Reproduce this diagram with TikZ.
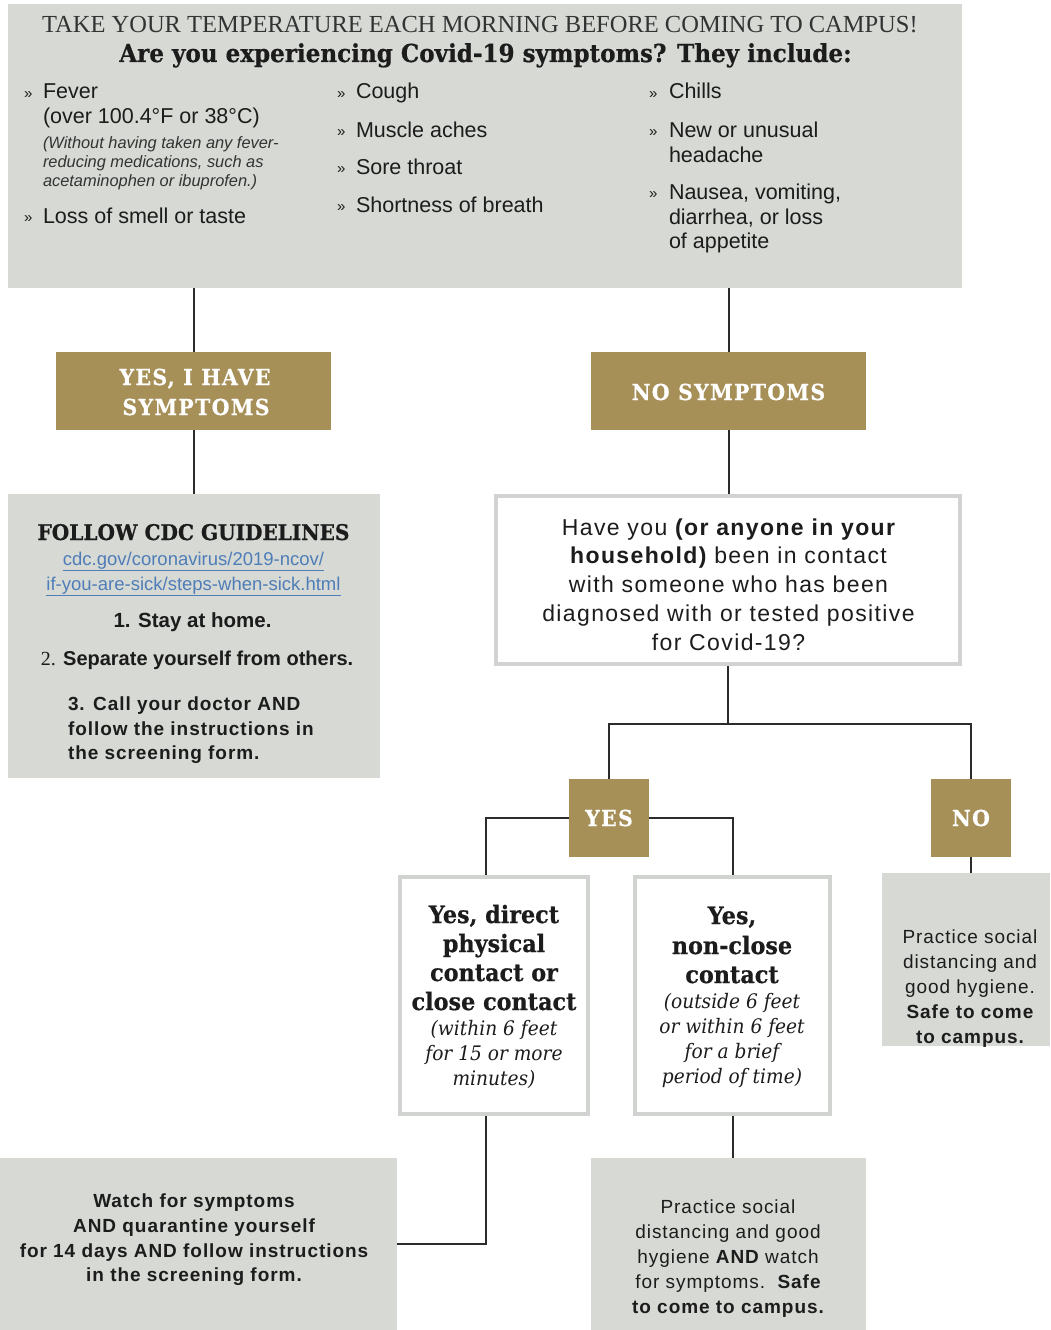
\documentclass[tikz,border=0pt]{standalone}
\usepackage{fontspec}
\setmainfont{Liberation Sans}
\newfontfamily\trk[LetterSpace=5]{Liberation Sans}
\newfontfamily\qfont[LetterSpace=6]{Liberation Sans}
\newfontfamily\titleserif{Liberation Serif}
\newfontfamily\slab[FakeStretch=0.93,BoldFeatures={FakeBold=0.6}]{DejaVu Serif}
\newfontfamily\slabsp[FakeStretch=0.93,LetterSpace=6,BoldFeatures={FakeBold=0.5}]{DejaVu Serif}
\newcommand\fsz[1]{\fontsize{#1}{#1}\selectfont}
\usetikzlibrary{backgrounds}
\definecolor{gold}{HTML}{A69058}
\definecolor{panel}{HTML}{D6D9D4}
\definecolor{frame}{HTML}{D0D3CF}
\definecolor{linkblue}{HTML}{4F7DB8}
\definecolor{ink}{HTML}{1C1C1C}
\definecolor{wirecol}{HTML}{2B2B2B}
\definecolor{soft}{HTML}{333333}
\begin{document}
\begin{tikzpicture}[x=1pt,y=-1pt,
  every node/.style={inner sep=0pt,outer sep=0pt},
  panelbox/.style={fill=panel,draw=none},
  goldbox/.style={fill=gold,draw=none},
  framebox/.style={fill=white,draw=frame,line width=4pt},
  wire/.style={draw=wirecol,line width=2pt},
  txt/.style={text=ink,anchor=base},
  txtl/.style={text=ink,anchor=base west},
  bul/.style={text=ink,anchor=base west,font=\fsz{15}},
  sym/.style={text=ink,anchor=base west,font=\fsz{21.5}},
  note/.style={text=soft,anchor=base west,font=\itshape\fsz{16.4}},
  goldtxt/.style={text=white,anchor=base,font=\slabsp\bfseries\fsz{22}},
  slabhead/.style={text=ink,anchor=base,font=\slab\bfseries\fsz{24}},
  slabnote/.style={text=ink,anchor=base,font=\slab\itshape\fsz{20}},
  qtxt/.style={text=ink,anchor=base,font=\qfont\fsz{23}},
  plain/.style={text=ink,anchor=base,font=\trk\fsz{19}},
  plainb/.style={text=ink,anchor=base,font=\trk\bfseries\fsz{19}}
]
\useasboundingbox (0,0) rectangle (1050,1330);

% ---------- boxes ----------
\node[panelbox,minimum width=954pt,minimum height=284pt] (top) at (485,146) {};
\node[goldbox,minimum width=275pt,minimum height=78pt] (yesS) at (193.5,391) {};
\node[goldbox,minimum width=275pt,minimum height=78pt] (noS) at (728.5,391) {};
\node[panelbox,minimum width=372pt,minimum height=284pt] (cdc) at (194,636) {};
\node[framebox,minimum width=464pt,minimum height=168pt] (q) at (728,580) {};
\node[goldbox,minimum width=80pt,minimum height=78pt] (yesB) at (609,818) {};
\node[goldbox,minimum width=80pt,minimum height=78pt] (noB) at (971,818) {};
\node[framebox,minimum width=188pt,minimum height=237pt] (direct) at (494,995.5) {};
\node[framebox,minimum width=195pt,minimum height=237pt] (noncl) at (732.5,995.5) {};
\node[panelbox,minimum width=168pt,minimum height=173pt] (prac) at (966,959.5) {};
\node[panelbox,minimum width=397pt,minimum height=172pt] (watch) at (198.5,1244) {};
\node[panelbox,minimum width=275pt,minimum height=172pt] (prac2) at (728.5,1244) {};

\coordinate (join) at (728,724);
\coordinate (dtop) at (486,875);

% ---------- connectors ----------
\begin{pgfonlayer}{background}
\fill[white] (0,0) rectangle (1050,1330);
\draw[wire] (yesS.north) -- (yesS.north |- top.south);
\draw[wire] (yesS.south) -- (yesS.south |- cdc.north);
\draw[wire] (noS.north) -- (noS.north |- top.south);
\draw[wire] (noS.south) -- (noS.south |- q.north);
\draw[wire] (q.south) -- (join);
\draw[wire] (yesB.north) -- (yesB.north |- join) -- (noB.north |- join) -- (noB.north);
\draw[wire] (yesB.west) -| (dtop);
\draw[wire] (yesB.east) -| (noncl.north);
\draw[wire] (noB.south) -- (noB.south |- prac.north);
\draw[wire] (direct.south -| dtop) |- (watch.east);
\draw[wire] (noncl.south) -- (noncl.south |- prac2.north);
\end{pgfonlayer}

% ---------- top panel ----------
\node[txt,text=soft,font=\titleserif\fsz{24.5}] (t1) at (480,33) {TAKE YOUR TEMPERATURE EACH MORNING BEFORE COMING TO CAMPUS!};
\node[txt,font=\slab\bfseries\fsz{24.8}] (t2) at (485.5,62) {Are you experiencing Covid-19 symptoms? They include:};

\node[bul] (b1) at (24,98) {»};
\node[sym] (s1) at (43,99) {Fever};
\node[sym] (s1b) at (43,123) {(over 100.4°F or 38°C)};
\node[note] (n1) at (43,148) {(Without having taken any fever-};
\node[note] (n2) at (43,167) {reducing medications, such as};
\node[note] (n3) at (43,186) {acetaminophen or ibuprofen.)};
\node[bul] (b2) at (24,222) {»};
\node[sym] (s2) at (43,223) {Loss of smell or taste};

\node[bul] (b3) at (337,98) {»};
\node[sym] (s3) at (356,99) {Cough};
\node[bul] (b4) at (337,136) {»};
\node[sym] (s4) at (356,137) {Muscle aches};
\node[bul] (b5) at (337,173) {»};
\node[sym] (s5) at (356,174) {Sore throat};
\node[bul] (b6) at (337,211) {»};
\node[sym] (s6) at (356,212) {Shortness of breath};

\node[bul] (b7) at (649,98) {»};
\node[sym] (s7) at (669,99) {Chills};
\node[bul] (b8) at (649,136) {»};
\node[sym] (s8) at (669,137) {New or unusual};
\node[sym] (s8b) at (669,162) {headache};
\node[bul] (b9) at (649,198) {»};
\node[sym] (s9) at (669,199) {Nausea, vomiting,};
\node[sym] (s9b) at (669,224) {diarrhea, or loss};
\node[sym] (s9c) at (669,248) {of appetite};

% ---------- gold labels ----------
\node[goldtxt] (g1) at (195,385) {YES, I HAVE};
\node[goldtxt] (g2) at (196,415) {SYMPTOMS};
\node[goldtxt] (g3) at (728.5,400) {NO SYMPTOMS};
\node[goldtxt] (g4) at (609,826) {YES};
\node[goldtxt] (g5) at (971,826) {NO};

% ---------- CDC panel ----------
\node[txt,font=\slab\bfseries\fsz{21.6}] (c0) at (193.5,540) {FOLLOW CDC GUIDELINES};
\node[txt,text=linkblue,font=\fsz{18.5}] (c1) at (193.5,565) {\underline{cdc.gov/coronavirus/2019-ncov/}};
\node[txt,text=linkblue,font=\fsz{18.5}] (c2) at (193.5,590) {\underline{if-you-are-sick/steps-when-sick.html}};
\node[txt,font=\bfseries\fsz{20.5}] (c3) at (192.5,627) {1. Stay at home.};
\node[txt,font=\bfseries\fsz{20}] (c4) at (197,665) {{\titleserif\mdseries 2.} Separate yourself from others.};
\node[txtl,font=\trk\bfseries\fsz{19}] (c5) at (68,710) {3. Call your doctor AND};
\node[txtl,font=\trk\bfseries\fsz{19}] (c6) at (68,735) {follow the instructions in};
\node[txtl,font=\trk\bfseries\fsz{19}] (c7) at (68,759) {the screening form.};

% ---------- question ----------
\node[qtxt] (q1) at (728.5,535) {Have you {\bfseries(or anyone in your}};
\node[qtxt] (q2) at (728.5,563) {{\bfseries household)} been in contact};
\node[qtxt] (q3) at (728.5,592) {with someone who has been};
\node[qtxt] (q4) at (728.5,621) {diagnosed with or tested positive};
\node[qtxt] (q5) at (728.5,650) {for Covid-19?};

% ---------- contact boxes ----------
\node[slabhead] (d1) at (494,923) {Yes, direct};
\node[slabhead] (d2) at (494,952) {physical};
\node[slabhead] (d3) at (494,981) {contact or};
\node[slabhead] (d4) at (494,1010) {close contact};
\node[slabnote] (d5) at (494,1035) {(within 6 feet};
\node[slabnote] (d6) at (494,1060) {for 15 or more};
\node[slabnote] (d7) at (494,1085) {minutes)};

\node[slabhead] (e1) at (732,924) {Yes,};
\node[slabhead] (e2) at (732,954) {non-close};
\node[slabhead] (e3) at (732,983) {contact};
\node[slabnote] (e4) at (732,1008) {(outside 6 feet};
\node[slabnote] (e5) at (732,1033) {or within 6 feet};
\node[slabnote] (e6) at (732,1058) {for a brief};
\node[slabnote] (e7) at (732,1083) {period of time)};

% ---------- outcome panels ----------
\node[plain] (p1) at (970,943) {Practice social};
\node[plain] (p2) at (970,968) {distancing and};
\node[plain] (p3) at (970,993) {good hygiene.};
\node[plainb] (p4) at (970,1018) {Safe to come};
\node[plainb] (p5) at (970,1043) {to campus.};

\node[plainb] (w1) at (194,1207) {Watch for symptoms};
\node[plainb] (w2) at (194,1232) {AND quarantine yourself};
\node[plainb] (w3) at (194,1257) {for 14 days AND follow instructions};
\node[plainb] (w4) at (194,1281) {in the screening form.};

\node[plain] (r1) at (728,1213) {Practice social};
\node[plain] (r2) at (728,1238) {distancing and good};
\node[plain] (r3) at (728,1263) {hygiene {\bfseries AND} watch};
\node[plain] (r4) at (728,1288) {for symptoms.\ \ {\bfseries Safe}};
\node[plainb] (r5) at (728,1313) {to come to campus.};
\end{tikzpicture}
\end{document}
